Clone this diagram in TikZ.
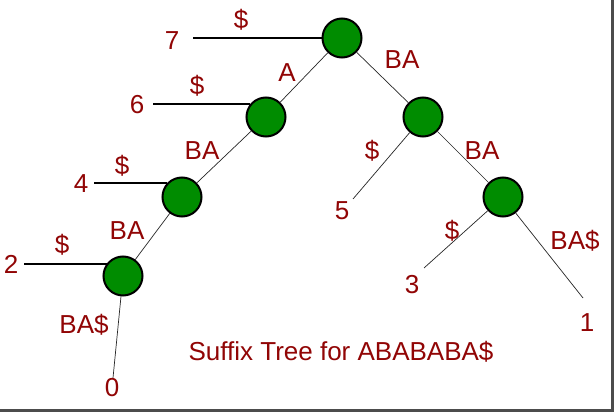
\documentclass[tikz,border=0pt]{standalone}
\usepackage{fontspec}
\setmainfont{Liberation Sans}
\definecolor{leafred}{RGB}{145,5,5}
\definecolor{nodegreen}{RGB}{0,140,0}
\tikzset{
  inner/.style={circle, draw=black, line width=2pt, fill=nodegreen, minimum size=39pt, inner sep=0pt},
  lbl/.style={text=leafred},
  edge/.style={draw=black!85, line width=0.7pt},
  hedge/.style={draw=black, line width=1.1pt}
}
\begin{document}
\begin{tikzpicture}[x=1pt, y=-1pt, font=\fontsize{26}{30}\selectfont]
\useasboundingbox (0,0) rectangle (614,412);
\fill[white] (0,0) rectangle (614,412);
\draw[black!70, line width=2.5pt] (612.5,0) -- (612.5,410.5) -- (0,410.5);
% inner nodes
\node[inner] (root) at (342,38) {};
\node[inner] (na) at (266,117) {};
\node[inner] (nb) at (423,117) {};
\node[inner] (nba) at (182,197) {};
\node[inner] (nbb) at (503,197) {};
\node[inner] (nbaba) at (123,276) {};
% leaf ends
\coordinate (l7) at (193,38);
\coordinate (l6) at (153,104);
\coordinate (l4) at (94,183);
\coordinate (l2) at (24,264);
\coordinate (l0) at (113,378);
\coordinate (l5) at (353,199);
\coordinate (l3) at (424,268);
\coordinate (l1) at (583,298);
% edges
\draw[edge] (root) -- (na);
\draw[edge] (root) -- (nb);
\draw[edge] (na) -- (nba);
\draw[edge] (nba) -- (nbaba);
\draw[edge] (nb) -- (nbb);
\draw[edge] (nbaba) -- (l0);
\draw[edge] (nb) -- (l5);
\draw[edge] (nbb) -- (l3);
\draw[edge] (nbb) -- (l1);
\draw[hedge] (l7) -- (root);
\draw[hedge] (l6) -- (l6 -| na.140);
\draw[hedge] (l4) -- (l4 -| nba.136);
\draw[hedge] (l2) -- (l2 -| nbaba.143);
% edge labels
\node[lbl] (e7) at (241,20) {\$};
\node[lbl] (e6) at (197,86) {\$};
\node[lbl] (e4) at (122,166) {\$};
\node[lbl] (e2) at (62,245) {\$};
\node[lbl] (ea) at (287,73) {A};
\node[lbl] (eb) at (402,60) {BA};
\node[lbl] (eba) at (202,151) {BA};
\node[lbl] (ebaba) at (127,231) {BA};
\node[lbl] (e0) at (84,325) {BA\$};
\node[lbl] (e5) at (372,151) {\$};
\node[lbl] (ebb) at (482,151) {BA};
\node[lbl] (e3) at (452,231) {\$};
\node[lbl] (e1) at (575,241) {BA\$};
% leaf numbers
\node[lbl] (n7) at (172,41) {7};
\node[lbl] (n6) at (137,105) {6};
\node[lbl] (n4) at (81,184) {4};
\node[lbl] (n2) at (11,264) {2};
\node[lbl] (n0) at (112,388) {0};
\node[lbl] (n5) at (342,211) {5};
\node[lbl] (n3) at (412,285) {3};
\node[lbl] (n1) at (587,323) {1};
\node[lbl] (title) at (341,352) {Suffix Tree for ABABABA\$};
\end{tikzpicture}
\end{document}
